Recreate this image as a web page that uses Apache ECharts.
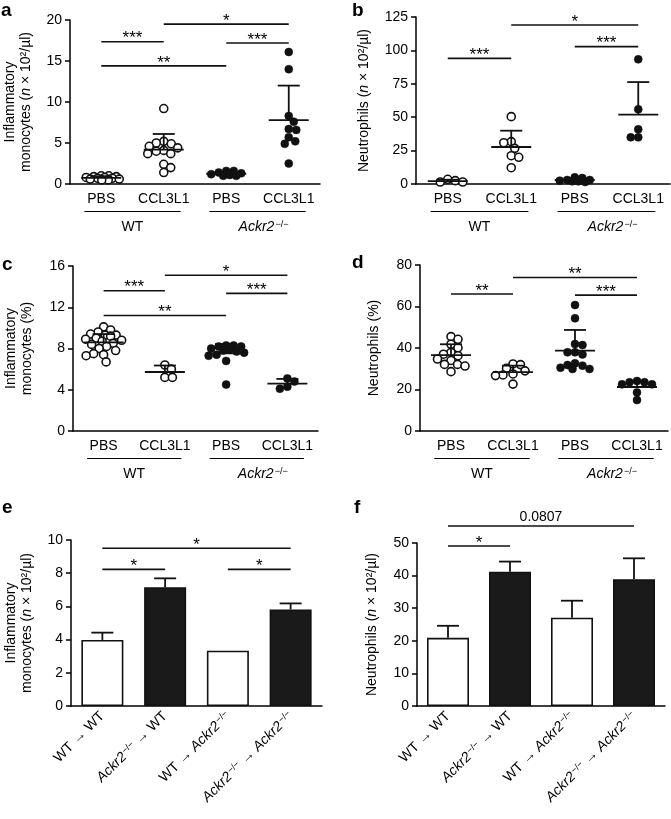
<!DOCTYPE html>
<html><head><meta charset="utf-8">
<script src="https://cdn.jsdelivr.net/npm/echarts@6/dist/echarts.min.js"></script>
<style>html,body{margin:0;padding:0;background:#fff}#c{width:671px;height:819px}</style>
</head><body><div id="c"></div>
<script>
// ---------- data ----------
const categories = ['PBS', 'CCL3L1', 'PBS', 'CCL3L1'];
const groupLabels = ['WT', 'Ackr2−/−'];
const barCategories = ['WT → WT', 'Ackr2−/− → WT', 'WT → Ackr2−/−', 'Ackr2−/− → Ackr2−/−'];

// a: inflammatory monocytes (n x 10^2/µl)
const aWtPbs = [1.0, 0.9, 0.8, 0.7, 0.6, 0.5, 0.8, 1.0, 0.9, 0.6, 0.5, 0.7];
const aWtCcl = [9.2, 5.2, 5.0, 4.9, 4.6, 4.4, 4.1, 4.0, 3.7, 3.7, 2.4, 2.0, 1.4];
const aKoPbs = [1.6, 1.6, 1.4, 1.3, 1.2, 1.0, 1.0, 1.1];
const aKoCcl = [16.1, 14.0, 8.3, 7.6, 6.6, 6.7, 5.7, 5.2, 4.9, 2.5];
const aMean = [0.75, 4.2, 1.25, 7.8];
const aSdTop = [0.95, 6.1, 1.45, 12.0];
const aSig = [[0, 1, 17.35, '***'], [1, 3, 19.5, '*'], [2, 3, 17.2, '***'], [0, 2, 14.4, '**']];

// b: neutrophils (n x 10^2/µl)
const bWtPbs = [2.5, 1.5, 1.5, 3.5];
const bWtCcl = [50.4, 31.7, 30.9, 26.7, 21.2, 20.0, 12.2];
const bKoPbs = [1.5, 2.0, 2.5, 3.0, 4.5, 2.0, 3.0, 5.0];
const bKoCcl = [93.3, 55.9, 40.9, 34.9, 34.9];
const bMean = [2.2, 27.7, 3.0, 51.9];
const bSdTop = [3.2, 39.9, 4.2, 76.3];
const bSig = [[0, 1, 94, '***'], [1, 3, 119, '*'], [2, 3, 102.8, '***']];

// c: inflammatory monocytes (%)
const cWtPbs = [10.1, 9.8, 9.6, 9.4, 9.3, 9.3, 9.2, 9.0, 8.9, 8.8, 8.7, 8.5, 8.4, 8.2, 8.0, 7.8, 7.5, 7.4, 7.3, 6.7];
const cWtCcl = [6.4, 6.0, 5.2, 5.2];
const cKoPbs = [8.3, 8.3, 8.2, 8.2, 8.0, 7.9, 7.8, 7.7, 7.6, 7.4, 7.3, 6.8, 4.5];
const cKoCcl = [5.1, 4.8, 4.3, 4.1];
const cMean = [8.6, 5.72, 7.53, 4.6];
const cSdTop = [9.4, 6.35, 8.44, 5.05];
const cSig = [[0, 1, 13.6, '***'], [1, 3, 15.1, '*'], [2, 3, 13.35, '***'], [0, 2, 11.2, '**']];

// d: neutrophils (%)
const dWtPbs = [45.5, 44.2, 41.8, 40.1, 37.9, 37.0, 36.3, 34.7, 34.0, 32.1, 32.1, 31.3, 28.6];
const dWtCcl = [32.3, 32.0, 30.2, 29.0, 27.5, 27.0, 26.7, 22.6];
const dKoPbs = [60.7, 54.3, 41.9, 41.4, 37.9, 37.9, 36.9, 32.6, 31.8, 31.5, 30.5, 29.9, 29.9];
const dKoCcl = [24.1, 23.5, 23.5, 22.5, 22.5, 18.6, 14.9];
const dMean = [36.6, 28.4, 38.7, 21.2];
const dSdTop = [41.8, 31.5, 48.7, 23.6];
const dSig = [[0, 1, 66, '**'], [1, 3, 74, '**'], [2, 3, 65.5, '***']];

// e: bone-marrow chimeras, inflammatory monocytes (n x 10^2/µl)
const eMean = [3.98, 7.15, 3.33, 5.82];
const eErrTop = [4.42, 7.69, null, 6.18];
const eSig = [[0, 3, 9.5, '*'], [0, 1, 8.23, '*'], [2, 3, 8.23, '*']];

// f: bone-marrow chimeras, neutrophils (n x 10^2/µl)
const fMean = [20.9, 41.2, 27.1, 38.9];
const fErrTop = [24.6, 44.3, 32.3, 45.3];
const fSig = [[0, 1, 49.1, '*'], [0, 3, 55.2, '0.0807']];

// ---------- styling / layout ----------
const FONT = '"Liberation Sans", Arial, Helvetica, sans-serif';
const BLACK = '#111';
const rich = {
  i: { fontStyle: 'italic', fontSize: 14, fontFamily: FONT, color: '#000' },
  s: { fontSize: 9, fontFamily: FONT, color: '#000', verticalAlign: 'top', padding: [0, 0, 0, 1] },
  n: { fontStyle: 'italic', fontSize: 14, fontFamily: FONT, color: '#000' }
};
function fmt(t) { return t.replace(/Ackr2−\/−/g, '{i|Ackr2}{s|−/−}'); }

const panels = [
  { left: 70, top: 20, width: 250, height: 164, max: 20, interval: 5, nameGap: 36,
    yName: 'Inflammatory\nmonocytes ({n|n} × 10²/µl)', groups: [aWtPbs, aWtCcl, aKoPbs, aKoCcl],
    mean: aMean, sd: aSdTop, sig: aSig },
  { left: 416, top: 17, width: 254, height: 167, max: 125, interval: 25, nameGap: 44,
    yName: 'Neutrophils ({n|n} × 10²/µl)', groups: [bWtPbs, bWtCcl, bKoPbs, bKoCcl],
    mean: bMean, sd: bSdTop, sig: bSig },
  { left: 73, top: 266, width: 245, height: 165, max: 16, interval: 4, nameGap: 38,
    yName: 'Inflammatory\nmonocytes (%)', groups: [cWtPbs, cWtCcl, cKoPbs, cKoCcl],
    mean: cMean, sd: cSdTop, sig: cSig },
  { left: 420, top: 265, width: 248, height: 166, max: 80, interval: 20, nameGap: 38,
    yName: 'Neutrophils (%)', groups: [dWtPbs, dWtCcl, dKoPbs, dKoCcl],
    mean: dMean, sd: dSdTop, sig: dSig },
  { left: 71, top: 540, width: 251, height: 166, max: 10, interval: 2, nameGap: 36,
    yName: 'Inflammatory\nmonocytes ({n|n} × 10²/µl)', bars: eMean, err: eErrTop, sig: eSig },
  { left: 417, top: 543, width: 248, height: 163, max: 50, interval: 10, nameGap: 37,
    yName: 'Neutrophils ({n|n} × 10²/µl)', bars: fMean, err: fErrTop, sig: fSig }
];

// beeswarm layout (pixel-space collision avoidance, deterministic, width-limited)
function swarm(values, pxY, pxX, idx, d, maxOff) {
  const pts = values.map((v, k) => ({ v, k })).sort((p, q) => q.v - p.v);
  const placed = [];
  const out = [];
  pts.forEach((p, n) => {
    const y = p.v * pxY;
    let best = null, bestScore = -1;
    for (let s = 0; s <= maxOff * 2; s++) {
      const c = s * 0.5;
      const cands = s === 0 ? [0] : (n % 2 ? [c, -c] : [-c, c]);
      let found = false;
      for (const cc of cands) {
        const md = placed.length ? Math.min(...placed.map(q => Math.hypot(q.x - cc, q.y - y))) : Infinity;
        if (md >= d) { best = cc; found = true; break; }
        if (md > bestScore) { bestScore = md; best = cc; }
      }
      if (found) break;
    }
    placed.push({ x: best, y });
    out.push([idx + best / pxX, p.v]);
  });
  return out;
}

const option = { animation: false, backgroundColor: '#fff', grid: [], xAxis: [], yAxis: [], series: [], graphic: [] };
const axisLine = { show: true, onZero: false, lineStyle: { color: '#000', width: 1.5 } };

panels.forEach((p, pi) => {
  const isBar = !!p.bars;
  option.grid.push({ left: p.left, top: p.top, width: p.width, height: p.height });
  option.xAxis.push({
    type: 'category', gridIndex: pi, data: (isBar ? barCategories : categories).map(fmt),
    axisLine, axisTick: { show: false },
    axisLabel: { fontSize: 14, fontFamily: FONT, color: '#000', margin: 8, rotate: isBar ? 45 : 0, rich, interval: 0 }
  });
  option.xAxis.push({ type: 'value', gridIndex: pi, min: -0.5, max: 3.5, show: false });
  option.yAxis.push({
    type: 'value', gridIndex: pi, min: 0, max: p.max, interval: p.interval,
    name: p.yName, nameLocation: 'middle', nameGap: p.nameGap, nameRotate: 90,
    nameTextStyle: { fontSize: 14, fontFamily: FONT, color: '#000', rich, lineHeight: 16 },
    axisLine, axisTick: { show: true, length: 5, lineStyle: { color: '#000', width: 1.5 } },
    axisLabel: { fontSize: 14, fontFamily: FONT, color: '#000', margin: 8 },
    splitLine: { show: false }
  });
  const xc = pi * 2, xv = pi * 2 + 1;
  const pxY = p.height / p.max, pxX = p.width / 4;

  if (!isBar) {
    p.groups.forEach((vals, gi) => {
      const open = gi < 2;
      option.series.push({
        type: 'scatter', xAxisIndex: xv, yAxisIndex: pi, symbol: 'circle', symbolSize: 8,
        data: swarm(vals, pxY, pxX, gi, 7.5, 18),
        itemStyle: open ? { color: '#fff', borderColor: BLACK, borderWidth: 1.6, opacity: 1 }
                        : { color: BLACK, borderColor: BLACK, borderWidth: 0.5, opacity: 1 },
        z: 2
      });
    });
    // mean + SD
    option.series.push({
      type: 'custom', xAxisIndex: xv, yAxisIndex: pi, z: 5,
      data: p.mean.map((m, i) => [i, m, p.sd[i]]), encode: { x: 0, y: 1 },
      renderItem(params, api) {
        const i = params.dataIndex;
        const pm = api.coord([i, p.mean[i]]);
        const ch = [{ type: 'line', shape: { x1: pm[0] - 20, y1: pm[1], x2: pm[0] + 20, y2: pm[1] }, style: { stroke: BLACK, lineWidth: 1.8 } }];
        if (p.sd[i] != null) {
          const pt = api.coord([i, p.sd[i]]);
          ch.push({ type: 'line', shape: { x1: pm[0], y1: pm[1], x2: pm[0], y2: pt[1] }, style: { stroke: BLACK, lineWidth: 1.8 } });
          ch.push({ type: 'line', shape: { x1: pm[0] - 11, y1: pt[1], x2: pm[0] + 11, y2: pt[1] }, style: { stroke: BLACK, lineWidth: 1.8 } });
        }
        return { type: 'group', children: ch };
      }
    });
    // group labels under the axis
    option.series.push({
      type: 'custom', xAxisIndex: xv, yAxisIndex: pi, z: 5,
      data: [[0, 0], [2, 0]], encode: { x: 0, y: 1 },
      renderItem(params, api) {
        const gi = params.dataIndex;
        const a = api.coord([gi * 2, 0]), b = api.coord([gi * 2 + 1, 0]);
        const mid = (a[0] + b[0]) / 2, half = pxX * 0.77, y0 = Math.round(a[1]) + 27.5;
        return { type: 'group', children: [
          { type: 'line', shape: { x1: mid - half, y1: y0, x2: mid + half, y2: y0 }, style: { stroke: '#000', lineWidth: 1.2 } },
          { type: 'text', style: { text: fmt(groupLabels[gi]), x: mid + (gi ? 6 : 0), y: y0 + 16, align: 'center', verticalAlign: 'middle',
            fontSize: 14, fontFamily: FONT, fill: '#000', rich } }
        ] };
      }
    });
  } else {
    option.series.push({
      type: 'bar', xAxisIndex: xc, yAxisIndex: pi, barWidth: 42, z: 2,
      data: p.bars.map((v, i) => ({ value: v, itemStyle: { color: i % 2 ? '#1a1a1a' : '#fff', borderColor: BLACK, borderWidth: 1.6 } }))
    });
    option.series.push({
      type: 'custom', xAxisIndex: xv, yAxisIndex: pi, z: 1,
      data: p.bars.map((m, i) => [i, m, p.err[i]]), encode: { x: 0, y: 1 },
      renderItem(params, api) {
        const i = params.dataIndex;
        if (p.err[i] == null) return { type: 'group', children: [] };
        const pm = api.coord([i, p.bars[i]]), pt = api.coord([i, p.err[i]]);
        return { type: 'group', children: [
          { type: 'line', shape: { x1: pm[0], y1: pm[1], x2: pm[0], y2: pt[1] }, style: { stroke: BLACK, lineWidth: 1.8 } },
          { type: 'line', shape: { x1: pm[0] - 11, y1: pt[1], x2: pm[0] + 11, y2: pt[1] }, style: { stroke: BLACK, lineWidth: 1.8 } }
        ] };
      }
    });
  }
  // significance brackets
  option.series.push({
    type: 'custom', xAxisIndex: xv, yAxisIndex: pi, z: 6,
    data: p.sig.map(s => [s[0], s[2]]), encode: { x: 0, y: 1 },
    renderItem(params, api) {
      const s = p.sig[params.dataIndex];
      const a = api.coord([s[0], s[2]]), b = api.coord([s[1], s[2]]);
      const num = /\d/.test(s[3]);
      return { type: 'group', children: [
        { type: 'line', shape: { x1: a[0], y1: a[1], x2: b[0], y2: b[1] }, style: { stroke: BLACK, lineWidth: 1.6 } },
        { type: 'text', style: { text: s[3], x: (a[0] + b[0]) / 2, y: a[1] - (num ? 9 : 3), align: 'center', verticalAlign: 'middle',
          fontSize: num ? 14 : 17, fontFamily: FONT, fill: '#000' } }
      ] };
    }
  });
});

// panel letters
[['a', 1, 21], ['b', 352, 21], ['c', 2, 275], ['d', 352, 273], ['e', 2, 518], ['f', 354, 518]].forEach(l => {
  option.graphic.push({ type: 'text', left: l[1], top: l[2] - 20,
    style: { text: l[0], fontSize: 19, fontWeight: 'bold', fontFamily: FONT, fill: '#000' } });
});

const chart = echarts.init(document.getElementById('c'), null, { renderer: 'canvas' });
chart.setOption(option);
</script></body></html>
